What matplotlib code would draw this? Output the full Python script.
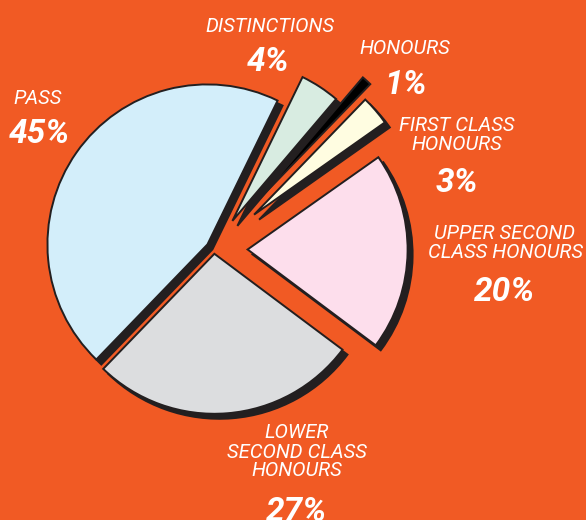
import matplotlib
matplotlib.use("Agg")
import matplotlib.pyplot as plt

# degree classification shares, in the order they go round the pie
classes = ["PASS", "LOWER\nSECOND CLASS\nHONOURS", "UPPER SECOND\nCLASS HONOURS",
           "FIRST CLASS\nHONOURS", "HONOURS", "DISTINCTIONS"]
shares = [45, 27, 20, 3, 1, 4]

# look
bg = '#F15A24'
fills = ['#D3EEFA', '#DCDDDF', '#FDDEEC', '#FFFDE1', '#000000', '#D8ECE1']
explode = [0.05, 0.03, 0.21, 0.33, 0.42, 0.21]   # fraction of radius
centre = (214, 271)
radius = 160
shadow_dx, shadow_dy = 5, -5

# label anchors (pixels, y up) for name and for percentage
name_pos = [(38, 421), (297, 68), (505, 277), (457, 385), (405, 472), (270, 493)]
pct_pos = [(39, 386), (297, 8), (505, 228), (457, 337), (405, 435), (268, 458)]

fam = ['Roboto', 'DejaVu Sans']

fig = plt.figure(figsize=(5.86, 5.2), dpi=100)
fig.patch.set_facecolor(bg)
ax = fig.add_axes([0, 0, 1, 1])
ax.set_facecolor(bg)

offsets = [e * radius for e in explode]

# drop shadow first, then the coloured wedges
shadow, _ = ax.pie(shares, explode=offsets, startangle=64, counterclock=True,
                   colors=['#231F20'] * len(shares), radius=radius,
                   center=(centre[0] + shadow_dx, centre[1] + shadow_dy),
                   wedgeprops=dict(edgecolor='#231F20', linewidth=1.4), frame=False)
shadow[4].set_visible(False)   # the black sliver has no visible shadow
ax.pie(shares, explode=offsets, startangle=64, counterclock=True,
       colors=fills, radius=radius, center=centre,
       wedgeprops=dict(edgecolor='#231F20', linewidth=1.4), frame=False)

for name, v, (nx, ny), (px, py) in zip(classes, shares, name_pos, pct_pos):
    ax.text(nx, ny, name, color='white', fontsize=14.5, family=fam, style='italic',
            ha='center', va='center', linespacing=1.0)
    ax.text(px, py, f"{v}%", color='white', fontsize=24, family=fam, style='italic',
            weight='bold', ha='center', va='center')

ax.set_xlim(0, 586)
ax.set_ylim(0, 520)
ax.set_aspect('equal')
ax.axis('off')

fig.savefig('out.png', dpi=100, facecolor=bg)
